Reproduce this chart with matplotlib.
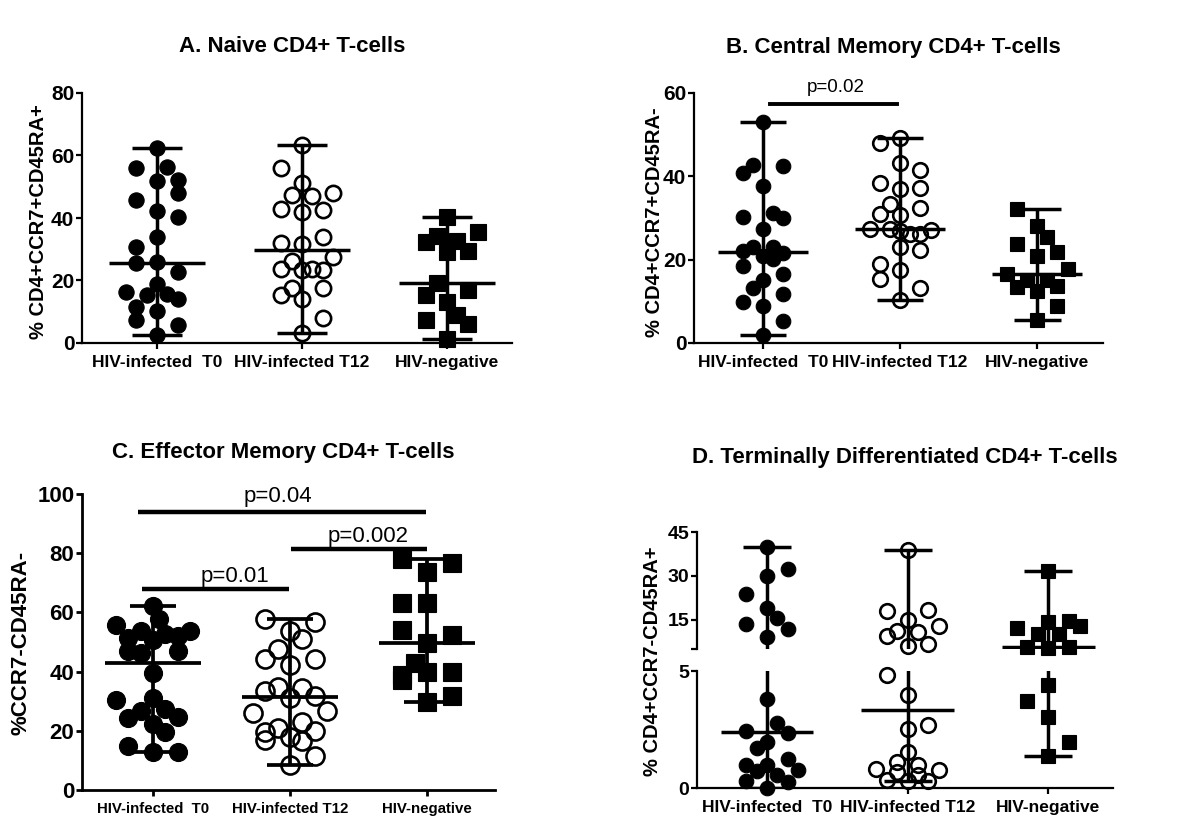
import numpy as np
import matplotlib.pyplot as plt

plt.rcParams['font.family'] = ['Liberation Sans', 'DejaVu Sans']

W, H = 1194, 821

groups = ["HIV-infected  T0", "HIV-infected T12", "HIV-negative"]

# A. Naive
a_t0 = [62.4, 56.1, 56.3, 51.7, 52.3, 48.0, 45.9, 42.2, 40.3, 33.9, 30.7, 25.9,
        25.6, 22.7, 16.3, 18.8, 15.3, 15.8, 14.0, 11.5, 10.1, 7.5, 5.9, 2.5]
a_t0_pos = [0, -2, 1, 0, 2, 2, -2, 0, 2, 0, -2, 0, -2, 2, -3, 0, -1, 1, 2, -2, 0, -2, 2, 0]
a_t12 = [63.3, 56.1, 51.2, 47.3, 46.9, 48.0, 43.0, 42.7, 41.9, 33.9, 32.1, 31.8,
         27.5, 26.1, 23.8, 23.3, 23.8, 23.5, 15.5, 17.7, 17.6, 14.2, 8.0, 3.2]
a_t12_pos = [0, -2, 0, -1, 1, 3, -2, 2, 0, 2, -2, 0, 3, -1, -2, 0, 1, 2, -2, -1, 2, 0, 2, 0]
a_neg = [40.3, 32.3, 34.1, 32.5, 35.5, 29.1, 29.4, 19.3, 15.3, 17.1, 13.1, 7.3, 8.9, 6.2, 1.4]
a_neg_pos = [0, -2, -1, 1, 3, 0, 2, -1, -2, 2, 0, -2, 1, 2, 0]

# B. Central memory
b_t0 = [53.0, 40.8, 42.6, 42.4, 37.6, 30.2, 31.2, 30.1, 27.4, 22.0, 23.0, 23.0,
        21.5, 20.8, 20.2, 18.4, 16.5, 15.2, 13.3, 11.7, 9.8, 8.8, 5.3, 2.0]
b_t0_pos = [0, -2, -1, 2, 0, -2, 1, 2, 0, -2, -1, 1, 2, 0, 1, -2, 2, 0, -1, 2, -2, 0, 2, 0]
b_t12 = [49.3, 48.0, 43.2, 41.6, 38.4, 37.0, 37.3, 33.4, 32.5, 31.0, 30.6, 27.4,
         27.4, 26.9, 26.1, 26.1, 27.2, 23.0, 22.2, 19.0, 17.4, 15.4, 13.3, 10.3]
b_t12_pos = [0, -2, 0, 2, -2, 0, 2, -1, 2, -2, 0, -3, -1, 0, 1, 2, 3, 0, 2, -2, 0, -2, 2, 0]
b_neg = [32.2, 28.0, 25.4, 23.7, 20.8, 21.8, 17.7, 16.5, 15.2, 15.0, 13.4, 12.5, 13.6, 8.8, 5.6]
b_neg_pos = [-2, 0, 1, -2, 0, 2, 3, -3, -1, 1, -2, 0, 2, 2, 0]

# C. Effector memory
c_t0 = [62.0, 57.7, 55.8, 53.6, 51.3, 52.6, 51.9, 53.6, 50.7, 46.8, 46.4, 46.8,
        39.5, 30.4, 31.0, 26.8, 27.3, 24.2, 24.6, 22.3, 19.7, 14.7, 13.0, 13.0]
c_t0_pos = [0, 0.5, -3, -1, -2, 1, 2, 3, 0, -2, -1, 2, 0, -3, 0, -1, 1, -2, 2, 0, 1, -2, 0, 2]
c_t12 = [57.8, 56.9, 53.6, 51.0, 47.6, 44.2, 44.2, 42.3, 34.9, 34.4, 33.3, 31.8,
         31.0, 25.9, 26.8, 23.1, 20.9, 20.1, 19.7, 16.9, 18.0, 16.7, 11.5, 8.5]
c_t12_pos = [-2, 2, 0, 1, -1, -2, 2, 0, -1, 1, -2, 2, 0, -3, 3, 1, -1, 2, -2, -2, 0, 1, 2, 0]
c_neg = [78.0, 76.6, 73.8, 63.1, 63.1, 54.1, 52.4, 49.8, 42.8, 38.9, 40.0, 40.0, 37.2, 31.6, 29.8]
c_neg_pos = [-2, 2, 0, -2, 0, -2, 2, 0, -1, -2, 0, 2, -2, 2, 0]
c_brackets = [(-0.11, 1.995, 93.8), (1.01, 2.0, 81.4), (-0.08, 0.995, 67.9)]
c_pvals = ["p=0.04", "p=0.002", "p=0.01"]
c_pval_xy = [(0.91, 99.0), (1.57, 85.6), (0.6, 72.0)]

# D. Terminally differentiated
d_t0 = [39.9, 32.4, 30.1, 23.8, 19.1, 15.7, 13.5, 11.7, 9.0, 3.82, 2.79, 2.44,
        2.34, 1.98, 1.73, 0.99, 0.99, 1.23, 0.78, 0.71, 0.57, 0.28, 0.24, 0.0]
d_t0_pos = [0, 2, 0, -2, 0, 1, -2, 2, 0, 0, 1, -2, 2, 0, -1, -2, 0, 2, 3, -1, 1, -2, 2, 0]
d_t12 = [39.0, 18.0, 18.5, 14.9, 12.8, 11.1, 10.9, 9.4, 6.0, 6.7, 4.82, 3.97,
         2.51, 2.69, 1.52, 1.13, 0.99, 0.81, 0.78, 0.67, 0.35, 0.28, 0.28, 0.57]
d_t12_pos = [0, -2, 2, 0, 3, -1, 1, -2, 0, 2, -2, 0, 0, 2, 0, -1, 1, -3, 3, -1, -2, 0, 2, 1]
d_neg = [31.7, 12.3, 14.3, 14.7, 12.8, 10.0, 10.0, 5.8, 5.5, 5.8, 4.39, 3.73, 3.05, 1.98, 1.37]
d_neg_pos = [0, -3, 0, 2, 3, -1, 1, -2, 0, 2, 0, -2, 0, 2, 0]

fig = plt.figure(figsize=(W / 100, H / 100), dpi=100)


def add_ax(left, top, right, bottom):
    return fig.add_axes([left / W, 1 - bottom / H, (right - left) / W, (bottom - top) / H])


def style_ax(ax, xlim, ylim, yticks, ytick_fs, xtick_fs, spine_lw=1.6, bottom=True):
    ax.set_xlim(*xlim)
    ax.set_ylim(*ylim)
    ax.set_yticks(yticks)
    for s in ['top', 'right']:
        ax.spines[s].set_visible(False)
    ax.spines['left'].set_linewidth(spine_lw)
    ax.spines['bottom'].set_linewidth(spine_lw)
    if not bottom:
        ax.spines['bottom'].set_visible(False)
        ax.set_xticks([])
    else:
        ax.set_xticks([0, 1, 2])
        ax.set_xticklabels(groups, fontsize=xtick_fs, fontweight='bold')
    ax.tick_params(axis='y', direction='out', length=4.5, width=spine_lw, pad=1,
                   labelsize=ytick_fs)
    ax.tick_params(axis='x', direction='out', length=4.5, width=spine_lw, pad=4)
    for lab in ax.get_yticklabels():
        lab.set_fontweight('bold')


def draw_lines(ax, i, vals, cap, med, lw):
    vals = np.asarray(vals)
    lo, hi, md = vals.min(), vals.max(), np.median(vals)
    ax.plot([i, i], [lo, hi], color='k', lw=lw, zorder=2, solid_capstyle='butt')
    ax.plot([i - cap, i + cap], [hi, hi], color='k', lw=lw, zorder=2, solid_capstyle='butt')
    ax.plot([i - cap, i + cap], [lo, lo], color='k', lw=lw, zorder=2, solid_capstyle='butt')
    ax.plot([i - med, i + med], [md, md], color='k', lw=lw, zorder=2, solid_capstyle='butt')


def draw_points(ax, i, vals, pos, step, marker, filled, ms):
    vals = np.asarray(vals)
    x = i + np.asarray(pos) * step
    if filled:
        ax.plot(x, vals, ls='none', marker=marker, ms=ms, mfc='k', mec='k', mew=0.8,
                clip_on=False, zorder=3)
    else:
        ax.plot(x, vals, ls='none', marker=marker, ms=ms, mfc='none', mec='k', mew=1.9,
                clip_on=False, zorder=3)


def fig_text(x, y, s, size, rot=0, weight='bold'):
    fig.text(x / W, 1 - y / H, s, ha='center', va='center', rotation=rot,
             fontsize=size, fontweight=weight)


markers = [('o', True), ('o', False), ('s', True)]

# Panel A
ax = add_ax(82, 93, 512, 343)
for i, (vals, pos) in enumerate([(a_t0, a_t0_pos), (a_t12, a_t12_pos), (a_neg, a_neg_pos)]):
    draw_lines(ax, i, vals, 0.17, 0.33, 2.5)
    draw_points(ax, i, vals, pos, 0.072, markers[i][0], markers[i][1], 11)
style_ax(ax, (-0.517, 2.448), (0, 80), [0, 20, 40, 60, 80], 15, 12.5)
fig_text(292, 47, "A. Naive CD4+ T-cells", 16)
fig_text(39, 222, "% CD4+CCR7+CD45RA+", 14.5, 90)

# Panel B
ax = add_ax(694, 93, 1103, 343)
for i, (vals, pos) in enumerate([(b_t0, b_t0_pos), (b_t12, b_t12_pos), (b_neg, b_neg_pos)]):
    draw_lines(ax, i, vals, 0.17, 0.33, 2.5)
    draw_points(ax, i, vals, pos, 0.074, markers[i][0], markers[i][1], 10.5)
style_ax(ax, (-0.504, 2.48), (0, 60), [0, 20, 40, 60], 15, 12.5)
ax.plot([0.05, 0.98], [57.4, 57.4], color='k', lw=2.8, clip_on=False)
ax.text(0.53, 61.2, "p=0.02", ha='center', va='center', fontsize=13.5, clip_on=False)
fig_text(893, 47, "B. Central Memory CD4+ T-cells", 16)
fig_text(654, 222, "% CD4+CCR7+CD45RA-", 14.5, 90)

# Panel C
ax = add_ax(82, 494, 495, 790)
for i, (vals, pos) in enumerate([(c_t0, c_t0_pos), (c_t12, c_t12_pos), (c_neg, c_neg_pos)]):
    draw_lines(ax, i, vals, 0.17, 0.35, 2.7)
    draw_points(ax, i, vals, pos, 0.09, markers[i][0], markers[i][1], 13)
style_ax(ax, (-0.518, 2.496), (0, 100), [0, 20, 40, 60, 80, 100], 16, 10.8, spine_lw=2.0)
for (x0, x1, y), s, (tx, ty) in zip(c_brackets, c_pvals, c_pval_xy):
    ax.plot([x0, x1], [y, y], color='k', lw=3.2, clip_on=False, solid_capstyle='butt')
    ax.text(tx, ty, s, ha='center', va='center', fontsize=16, clip_on=False)
fig_text(283, 452, "C. Effector Memory CD4+ T-cells", 16)
fig_text(21, 643, "%CCR7-CD45RA-", 16, 90)

# Panel D (broken y axis)
ax_hi = add_ax(697, 532, 1113, 649)
ax_lo = add_ax(697, 671, 1113, 788)
for i, (vals, pos) in enumerate([(d_t0, d_t0_pos), (d_t12, d_t12_pos), (d_neg, d_neg_pos)]):
    vals = np.asarray(vals)
    pos = np.asarray(pos)
    for a in (ax_hi, ax_lo):
        draw_lines(a, i, vals, 0.17, 0.33, 2.5)
    up = vals >= 5
    draw_points(ax_hi, i, vals[up], pos[up], 0.074, markers[i][0], markers[i][1], 10.5)
    draw_points(ax_lo, i, vals[~up], pos[~up], 0.074, markers[i][0], markers[i][1], 10.5)
style_ax(ax_hi, (-0.498, 2.46), (5, 45), [5, 15, 30, 45], 14, 12.5, bottom=False)
ax_hi.set_yticklabels(['', '15', '30', '45'], fontweight='bold')
style_ax(ax_lo, (-0.498, 2.46), (0, 5), [0, 5], 14, 12.5)
fig_text(905, 457, "D. Terminally Differentiated CD4+ T-cells", 16)
fig_text(652, 661, "% CD4+CCR7-CD45RA+", 14.5, 90)

fig.savefig("out.png", dpi=100)
